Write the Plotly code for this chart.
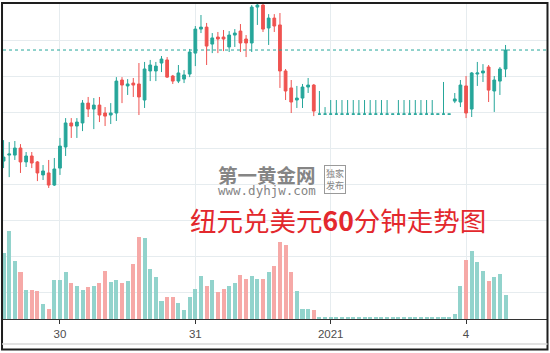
import plotly.graph_objects as go

# ---- data: NZD/USD 60-minute candles (index 0..89) ----
opens = [0.71330, 0.71363, 0.71363, 0.71402, 0.71325, 0.71358, 0.71325, 0.71253, 0.71264, 0.71197,
         0.71291, 0.71408, 0.71541, 0.71524, 0.71541, 0.71651, 0.71618, 0.71640, 0.71596, 0.71585,
         0.71596, 0.71779, 0.71746, 0.71762, 0.71757, 0.71668, 0.71829, 0.71829, 0.71873, 0.71890,
         0.71801, 0.71773, 0.71784, 0.71812, 0.71928, 0.72061, 0.72072, 0.71978, 0.72017, 0.72017,
         0.71962, 0.72028, 0.72050, 0.72006, 0.71984, 0.72183, 0.72194, 0.72067, 0.72122, 0.72084,
         0.71829, 0.71735, 0.71668, 0.71679, 0.71740, 0.71751, 0.71590, 0.71590, 0.71590, 0.71590,
         0.71590, 0.71590, 0.71590, 0.71590, 0.71590, 0.71590, 0.71590, 0.71590, 0.71590, 0.71590,
         0.71590, 0.71590, 0.71590, 0.71590, 0.71590, 0.71590, 0.71590, 0.71590, 0.71590, 0.71590,
         0.71662, 0.71657, 0.71746, 0.71618, 0.71812, 0.71818, 0.71851, 0.71718, 0.71773, 0.71840]
highs = [0.71446, 0.71435, 0.71441, 0.71424, 0.71380, 0.71380, 0.71330, 0.71308, 0.71336, 0.71347,
         0.71458, 0.71568, 0.71568, 0.71568, 0.71668, 0.71685, 0.71679, 0.71685, 0.71629, 0.71651,
         0.71795, 0.71795, 0.71784, 0.71790, 0.71873, 0.71879, 0.71890, 0.71879, 0.71912, 0.71906,
         0.71807, 0.71862, 0.71834, 0.71951, 0.72078, 0.72139, 0.72095, 0.72039, 0.72045, 0.72056,
         0.72050, 0.72061, 0.72089, 0.72028, 0.72194, 0.72200, 0.72200, 0.72144, 0.72144, 0.72150,
         0.71840, 0.71779, 0.71746, 0.71757, 0.71790, 0.71757, 0.71718, 0.71629, 0.71668, 0.71668,
         0.71668, 0.71668, 0.71668, 0.71668, 0.71668, 0.71668, 0.71668, 0.71668, 0.71668, 0.71590,
         0.71668, 0.71668, 0.71668, 0.71668, 0.71668, 0.71668, 0.71668, 0.71590, 0.71768, 0.71590,
         0.71707, 0.71779, 0.71801, 0.71823, 0.71879, 0.71867, 0.71862, 0.71801, 0.71851, 0.71973]
lows = [0.71291, 0.71241, 0.71336, 0.71264, 0.71297, 0.71291, 0.71219, 0.71225, 0.71181, 0.71192,
        0.71253, 0.71358, 0.71458, 0.71458, 0.71496, 0.71574, 0.71507, 0.71546, 0.71524, 0.71535,
        0.71552, 0.71651, 0.71696, 0.71685, 0.71585, 0.71624, 0.71773, 0.71773, 0.71823, 0.71790,
        0.71757, 0.71762, 0.71762, 0.71795, 0.71856, 0.72039, 0.71862, 0.71928, 0.71928, 0.71939,
        0.71934, 0.71962, 0.71934, 0.71906, 0.71934, 0.72084, 0.72045, 0.71973, 0.72045, 0.71735,
        0.71668, 0.71596, 0.71624, 0.71624, 0.71707, 0.71579, 0.71590, 0.71590, 0.71590, 0.71590,
        0.71590, 0.71590, 0.71590, 0.71590, 0.71590, 0.71590, 0.71590, 0.71590, 0.71590, 0.71590,
        0.71590, 0.71590, 0.71590, 0.71590, 0.71590, 0.71590, 0.71590, 0.71590, 0.71590, 0.71590,
        0.71651, 0.71629, 0.71568, 0.71574, 0.71746, 0.71768, 0.71657, 0.71602, 0.71696, 0.71795]
closes = [0.71352, 0.71369, 0.71402, 0.71325, 0.71358, 0.71319, 0.71264, 0.71275, 0.71197, 0.71286,
          0.71413, 0.71541, 0.71524, 0.71546, 0.71651, 0.71618, 0.71640, 0.71585, 0.71579, 0.71596,
          0.71773, 0.71751, 0.71757, 0.71751, 0.71685, 0.71840, 0.71862, 0.71856, 0.71895, 0.71795,
          0.71773, 0.71818, 0.71807, 0.71934, 0.72061, 0.72072, 0.71967, 0.72012, 0.72006, 0.72006,
          0.72028, 0.72039, 0.71984, 0.71984, 0.72183, 0.72194, 0.72061, 0.72122, 0.72078, 0.71829,
          0.71718, 0.71657, 0.71679, 0.71740, 0.71751, 0.71607, 0.71590, 0.71590, 0.71590, 0.71590,
          0.71590, 0.71590, 0.71590, 0.71590, 0.71590, 0.71590, 0.71590, 0.71590, 0.71590, 0.71590,
          0.71590, 0.71590, 0.71590, 0.71590, 0.71590, 0.71590, 0.71590, 0.71590, 0.71590, 0.71590,
          0.71674, 0.71751, 0.71596, 0.71818, 0.71818, 0.71829, 0.71723, 0.71779, 0.71840, 0.71945]
volumes = [1650, 2190, 1440, 1165, 715, 715, 690, 383, 250, 983,
           983, 1165, 900, 833, 715, 800, 833, 900, 1190, 925,
           983, 900, 958, 1375, 2050, 2025, 1250, 1050, 458, 550,
           550, 400, 233, 550, 758, 1083, 833, 983, 665, 758,
           833, 900, 1108, 1000, 1083, 1000, 1000, 1165, 1333, 1915,
           1840, 1165, 690, 258, 258, 215, 50, 50, 50, 50,
           50, 50, 50, 50, 50, 50, 50, 50, 50, 50,
           50, 50, 50, 50, 50, 50, 50, 50, 50, 50,
           125, 833, 1465, 1690, 1415, 1208, 958, 1040, 1133, 608]
tick_index = [10, 34, 58, 82]
tick_labels = ["30", "31", "2021", "4"]
title_text = "纽元兑美元<b>60</b>分钟走势图"
site_name = "<b>第一黄金网</b>"
site_url = "www.dyhjw.com"
badge_text = "独家<br>发布"

UP = "#26a69a"
DOWN = "#ef5350"
UP_VOL = "#92d3cc"
DOWN_VOL = "#f6a9a7"

idx = list(range(len(opens)))
flat = [o == c and l == o for o, c, l in zip(opens, closes, lows)]
norm_i = [i for i in idx if not flat[i]]
flat_i = [i for i in idx if flat[i]]

fig = go.Figure()

vol_colors = [UP_VOL if closes[i] >= opens[i] else DOWN_VOL for i in idx]
fig.add_trace(go.Bar(x=idx, y=volumes, marker=dict(color=vol_colors, line=dict(width=0)),
                     width=0.72, yaxis="y2", hoverinfo="skip", showlegend=False))

fig.add_trace(go.Candlestick(
    x=norm_i,
    open=[opens[i] for i in norm_i], high=[highs[i] for i in norm_i],
    low=[lows[i] for i in norm_i], close=[closes[i] for i in norm_i],
    increasing=dict(line=dict(color=UP, width=1), fillcolor=UP),
    decreasing=dict(line=dict(color=DOWN, width=1), fillcolor=DOWN),
    whiskerwidth=0, hoverinfo="skip", showlegend=False))

fig.add_trace(go.Candlestick(
    x=flat_i,
    open=[opens[i] for i in flat_i], high=[highs[i] for i in flat_i],
    low=[lows[i] for i in flat_i], close=[closes[i] for i in flat_i],
    increasing=dict(line=dict(color=UP, width=1), fillcolor=UP),
    decreasing=dict(line=dict(color=UP, width=1), fillcolor=UP),
    whiskerwidth=0, hoverinfo="skip", showlegend=False))

# last price dotted line
fig.add_hline(y=closes[-1], line=dict(color=UP, width=1, dash="dot"))

grid = "#e6ecef"
fig.update_layout(
    width=550, height=353,
    margin=dict(l=3, r=3, t=4, b=34),
    paper_bgcolor="white", plot_bgcolor="white",
    showlegend=False,
    xaxis=dict(range=[-0.1, 96.35], tickmode="array", tickvals=tick_index, ticktext=tick_labels,
               showgrid=True, gridcolor=grid, gridwidth=1, zeroline=False,
               showline=True, linecolor="#333333", linewidth=1,
               ticks="outside", ticklen=4, tickcolor="#333333",
               tickfont=dict(family="Liberation Sans, Arial", size=11.5, color="#4d4d4d"),
               rangeslider=dict(visible=False), fixedrange=True),
    yaxis=dict(range=[0.70455, 0.72200], tick0=0.72, dtick=0.002, showticklabels=False,
               showgrid=True, gridcolor=grid, gridwidth=1, zeroline=False, fixedrange=True),
    yaxis2=dict(range=[0, 7875], overlaying="y", showgrid=False, showticklabels=False,
                zeroline=False, fixedrange=True),
    bargap=0,
)

# outer frame
fig.add_shape(type="rect", xref="paper", yref="paper",
              x0=-0.0018, x1=1.0009, y0=-0.0968, y1=1.0032,
              line=dict(color="#1e1e1e", width=2), layer="above")
fig.add_shape(type="line", xref="paper", yref="paper",
              x0=-0.0018, x1=1.0009, y0=-0.0794, y1=-0.0794,
              line=dict(color="#d8d8d8", width=1.5), layer="above")

# watermark
fig.add_annotation(xref="paper", yref="paper", x=0.4862, y=0.4603, xanchor="center", yanchor="middle",
                   text=site_name, showarrow=False,
                   font=dict(family="Noto Sans CJK SC", size=19.5, color="#858585"))
fig.add_annotation(xref="paper", yref="paper", x=0.4844, y=0.4095, xanchor="center", yanchor="middle",
                   text=site_url, showarrow=False,
                   font=dict(family="DejaVu Sans Mono", size=12.5, color="#858585"))
fig.add_annotation(xref="paper", yref="paper", x=0.6094, y=0.4425, xanchor="center", yanchor="middle",
                   text=badge_text, showarrow=False, borderpad=1, borderwidth=1, bordercolor="#9a9a9a",
                   font=dict(family="Noto Sans CJK SC", size=9, color="#858585"))

# title text
fig.add_annotation(xref="paper", yref="paper", x=0.6149, y=0.3143, xanchor="center", yanchor="middle",
                   text=title_text, showarrow=False,
                   font=dict(family="Noto Sans CJK SC", size=26.5, color="#e3282d"))

fig.write_html("out.html", config={"displayModeBar": False})
